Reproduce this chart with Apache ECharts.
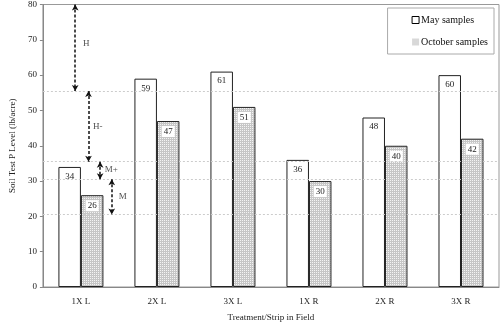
<!DOCTYPE html>
<html><head><meta charset="utf-8">
<script src="https://cdn.jsdelivr.net/npm/echarts@6/dist/echarts.min.js"></script>
<style>html,body{margin:0;padding:0;background:#fff}#c{width:500px;height:327px}</style>
</head><body><div id="c"></div>
<script>
var categories = ['1X L', '2X L', '3X L', '1X R', '2X R', '3X R'];
var maySamples = [34, 59, 61, 36, 48, 60];
var octoberSamples = [26, 47, 51, 30, 40, 42];
var yTicks = [0, 10, 20, 30, 40, 50, 60, 70, 80];
var thresholdLines = [55.5, 35.5, 30.5, 20.5];
// annotation arrows: [x (category units), yFrom, yTo]
var arrows = [[0.425, 80, 55.5], [0.60, 55.5, 35.5], [0.753, 35.5, 30.5], [0.906, 30.5, 20.5]];
// annotation texts: [x, y, text]
var arrowTexts = [[0.57, 69, 'H'], [0.72, 45.5, 'H-'], [0.90, 33.3, 'M+'], [1.05, 25.7, 'M']];

var FONT = '"Liberation Serif", "DejaVu Serif", serif';
var cv = document.createElement('canvas'); cv.width = 2; cv.height = 2;
var cx = cv.getContext('2d');
cx.fillStyle = '#c6c6c6'; cx.fillRect(0, 0, 2, 2);
cx.fillStyle = '#f4f4f4'; cx.fillRect(0, 0, 1, 1);
var pattern = { image: cv, repeat: 'repeat' };

var chart = echarts.init(document.getElementById('c'), null, { renderer: 'canvas' });
chart.setOption({
  animation: false,
  backgroundColor: '#fff',
  textStyle: { fontFamily: FONT },
  grid: { left: 29, right: 1, top: 3, bottom: 34, show: true, borderColor: '#999', borderWidth: 1 },
  legend: {
    data: [{ name: 'May samples', itemStyle: { color: '#fff', borderColor: '#000', borderWidth: 1 } },
           { name: 'October samples', itemStyle: { color: '#d8d8d8', borderWidth: 0 } }],
    orient: 'vertical', right: 6, top: 8, width: 119,
    backgroundColor: '#fff', borderColor: '#aaa', borderWidth: 1,
    padding: [7, 6, 7, 24], itemGap: 12, itemWidth: 7, itemHeight: 7, icon: 'rect',
    textStyle: { fontFamily: FONT, fontSize: 10, color: '#111', padding: [0, 0, 0, -3] }
  },
  xAxis: [{
    type: 'category', data: categories,
    axisLine: { lineStyle: { color: '#888' } }, axisTick: { show: false },
    axisLabel: { fontFamily: FONT, fontSize: 9, color: '#222', margin: 10 },
    name: 'Treatment/Strip in Field', nameLocation: 'middle', nameGap: 26,
    nameTextStyle: { fontFamily: FONT, fontSize: 9, color: '#222' }
  }, {
    type: 'value', min: 0, max: 6, show: false
  }],
  yAxis: {
    type: 'value', min: 0, max: 80, interval: 10,
    axisLine: { show: true, lineStyle: { color: '#888' } },
    axisTick: { show: true, length: 3, lineStyle: { color: '#888' } },
    splitLine: { show: false },
    axisLabel: { fontFamily: FONT, fontSize: 9, color: '#222', margin: 6,
      formatter: function (v) { return yTicks.indexOf(v) >= 0 ? String(v) : ''; } },
    name: 'Soil Test P Level (lb/acre)', nameLocation: 'middle', nameGap: 18,
    nameTextStyle: { fontFamily: FONT, fontSize: 9, color: '#222' }
  },
  series: [{
    name: 'May samples', type: 'bar', data: maySamples, barWidth: 22.5, barGap: '0%',
    itemStyle: { color: '#fff', borderColor: '#222', borderWidth: 1 },
    label: { show: true, position: 'insideTop', distance: 5, fontFamily: FONT, fontSize: 9, color: '#222' },
    markLine: {
      silent: true, symbol: ['none', 'none'],
      lineStyle: { color: '#ccc', type: [2, 2], width: 1 },
      label: { show: false },
      data: thresholdLines.map(function (v) { return { yAxis: v }; })
    },
    z: 3
  }, {
    name: 'October samples', type: 'bar', data: octoberSamples, barWidth: 22.5,
    itemStyle: { color: pattern, borderColor: '#222', borderWidth: 1 },
    label: { show: true, position: 'insideTop', distance: 5, fontFamily: FONT, fontSize: 9, color: '#222',
      backgroundColor: '#fff', padding: [1, 2] },
    z: 3
  }, {
    name: 'annot', type: 'scatter', xAxisIndex: 1, symbolSize: 0,
    data: arrowTexts.map(function (a) { return { value: [a[0], a[1]], name: a[2] }; }),
    label: { show: true, position: 'inside', formatter: '{b}', fontFamily: FONT, fontSize: 9, color: '#222' },
    markLine: {
      silent: true, symbol: ['arrow', 'arrow'], symbolSize: [5, 6],
      lineStyle: { color: '#111', type: [3, 2], width: 1.5 },
      label: { show: false },
      data: arrows.map(function (a) { return [{ coord: [a[0], a[1]] }, { coord: [a[0], a[2]] }]; })
    },
    z: 5
  }]
});
</script></body></html>
